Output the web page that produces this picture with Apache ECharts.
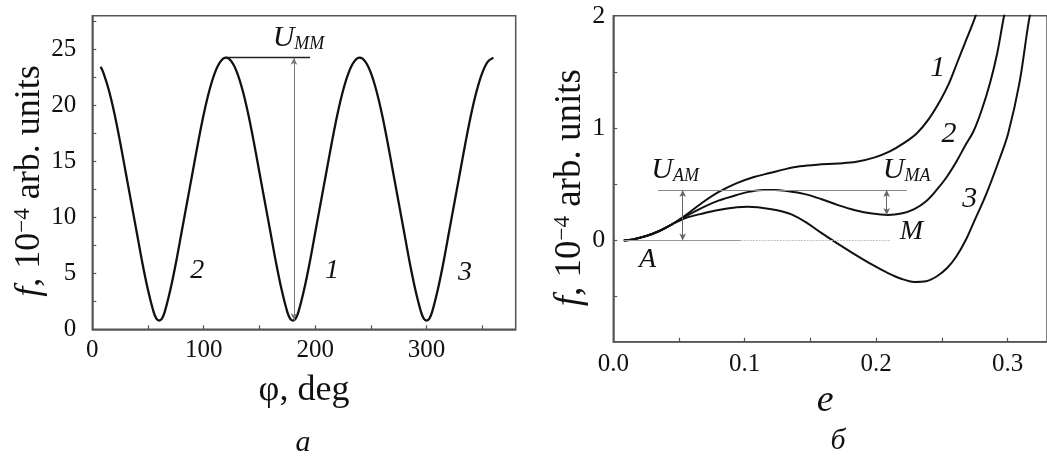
<!DOCTYPE html>
<html>
<head>
<meta charset="utf-8">
<script src="https://cdn.jsdelivr.net/npm/echarts@6/dist/echarts.min.js"></script>
<style>html,body{margin:0;padding:0;background:#fff;}#c{width:1047px;height:457px;}</style>
</head>
<body>
<div id="c"></div>
<script>
// ---- Panel a: f(phi) ----
const phiDeg = [7.5,10,15,20,25,30,35,40,45,50,55,57.5,60,62.5,65,70,75,80,85,90,95,100,105,110,115,120,
  125,130,135,140,145,150,155,160,165,170,175,177.5,180,182.5,185,190,195,200,205,210,215,220,225,230,235,240,
  245,250,255,260,265,270,275,280,285,290,295,297.5,300,302.5,305,310,315,320,325,330,335,340,345,350,355,360];
const fPhi = [23.45,22.9,21.3,19.2,16.7,14.0,11.3,8.6,5.9,3.5,1.55,0.95,0.78,0.95,1.55,3.5,5.9,8.6,11.3,14.0,16.7,19.2,21.3,22.9,23.9,24.25,
  23.9,22.9,21.3,19.2,16.7,14.0,11.3,8.6,5.9,3.5,1.55,0.95,0.78,0.95,1.55,3.5,5.9,8.6,11.3,14.0,16.7,19.2,21.3,22.9,23.9,24.25,
  23.9,22.9,21.3,19.2,16.7,14.0,11.3,8.6,5.9,3.5,1.55,0.95,0.78,0.95,1.55,3.5,5.9,8.6,11.3,14.0,16.7,19.2,21.3,22.9,23.9,24.25];
const phiTicks = [50,100,150,200,250,300,350];
const phiLabels = [0,100,200,300];
const fTicksA = [2.5,5,7.5,10,12.5,15,17.5,20,22.5,25,27.5];
const fLabelsA = [0,5,10,15,20,25];

// ---- Panel б: f(e) ----
const e1 = [0.008,0.015,0.025,0.035,0.044,0.055,0.069,0.08,0.094,0.107,0.119,0.131,0.142,0.155,0.171,0.185,0.199,0.21,0.221,0.231,0.24,0.249,0.2555,0.2615,0.268,0.2745,0.28];
const f1 = [0,0.01,0.04,0.085,0.14,0.225,0.347,0.43,0.51,0.565,0.60,0.635,0.66,0.675,0.685,0.70,0.74,0.79,0.866,0.955,1.08,1.25,1.40,1.577,1.77,1.96,2.15];
const e2 = [0.008,0.015,0.025,0.035,0.044,0.055,0.069,0.08,0.094,0.104,0.114,0.123,0.132,0.145,0.158,0.171,0.184,0.197,0.209,0.219,0.229,0.238,0.246,0.254,0.261,0.268,0.274,0.28,0.2866,0.292,0.2967,0.30];
const f2 = [0,0.01,0.04,0.085,0.14,0.215,0.30,0.355,0.406,0.435,0.45,0.45,0.44,0.415,0.37,0.315,0.27,0.24,0.228,0.24,0.28,0.35,0.45,0.57,0.70,0.85,0.97,1.15,1.40,1.66,1.96,2.15];
const e3 = [0.008,0.015,0.025,0.035,0.044,0.055,0.069,0.08,0.094,0.102,0.11,0.119,0.128,0.136,0.147,0.158,0.171,0.184,0.197,0.209,0.219,0.229,0.238,0.246,0.254,0.261,0.268,0.274,0.284,0.294,0.3005,0.309,0.3163,0.32];
const f3 = [0,0.01,0.04,0.085,0.14,0.2,0.243,0.272,0.297,0.30,0.295,0.28,0.26,0.23,0.16,0.07,-0.03,-0.125,-0.215,-0.29,-0.34,-0.368,-0.362,-0.32,-0.245,-0.142,0.0,0.155,0.42,0.73,0.955,1.40,1.96,2.15];
const eTicks = [0.05,0.1,0.15,0.2,0.25,0.3];
const eLabels = [0,0.1,0.2,0.3];
const fTicksB = [-0.5,0,0.5,1,1.5];
const fLabelsB = [0,1,2];

// annotation levels (data units)
const Umm = {peakPhi:120, endPhi:195.5, level:24.25, arrowPhi:181, low:0.8};
const Uline = {from:0.034, to:0.2233, level:0.45};
const zeroLine = {from:0.0075, solidTo:0.097, dottedTo:0.2105};
const arrowAM = {e:0.0528, low:0, high:0.45};
const arrowMA = {e:0.208, low:0.228, high:0.45};

const FONT = 'Liberation Serif';
const zip = (a,b)=>a.map((v,i)=>[v,b[i]]);
const axisCol = '#555';
const txt = '#111';

const chart = echarts.init(document.getElementById('c'), null, {renderer:'canvas'});

function baseAxis(extra){
  return Object.assign({
    type:'value',
    axisLine:{show:true,onZero:false,lineStyle:{color:axisCol,width:1.5}},
    splitLine:{show:false},
  }, extra);
}
const tick = (vals)=>({show:true,inside:true,length:4,customValues:vals,lineStyle:{color:axisCol,width:1.2}});
const arrowEnd = (coord)=>({coord, symbol:'arrow', symbolSize:[5,7]});

const option = {
  animation:false,
  backgroundColor:'#fff',
  grid:[
    {left:92.3, top:15.7, width:423.4, height:313.6, show:true, borderColor:axisCol, borderWidth:1.5},
    {left:613.3, top:15.7, width:438.9, height:326, show:true, borderColor:axisCol, borderWidth:1.5}
  ],
  xAxis:[
    baseAxis({gridIndex:0, min:0, max:380, axisTick:tick(phiTicks),
      axisLabel:{customValues:phiLabels,color:txt,fontFamily:FONT,fontSize:25,margin:9},
      name:'φ, deg', nameLocation:'middle', nameGap:43,
      nameTextStyle:{fontFamily:FONT,fontSize:36,color:txt}}),
    baseAxis({gridIndex:1, min:0, max:0.33, axisTick:tick(eTicks),
      axisLabel:{customValues:eLabels,color:txt,fontFamily:FONT,fontSize:25,margin:10,formatter:v=>v.toFixed(1)},
      name:'e', nameLocation:'middle', nameGap:28,
      nameTextStyle:{fontFamily:FONT,fontSize:38,fontStyle:'italic',color:txt,padding:[0,10,0,0]}})
  ],
  yAxis:[
    baseAxis({gridIndex:0, min:0, max:28, axisTick:tick(fTicksA),
      axisLabel:{customValues:fLabelsA,color:txt,fontFamily:FONT,fontSize:25,margin:16},
      name:'{i|f}, 10{s|−4} arb. units', nameLocation:'middle', nameGap:23,
      nameTextStyle:{fontFamily:FONT,fontSize:36,color:txt,padding:[0,17,0,0],
        rich:{i:{fontFamily:FONT,fontSize:36,fontStyle:'italic',color:txt},
              s:{fontFamily:FONT,fontSize:23,color:txt,verticalAlign:'top'}}}}),
    baseAxis({gridIndex:1, min:-0.9, max:2, axisTick:tick(fTicksB),
      axisLabel:{customValues:fLabelsB,color:txt,fontFamily:FONT,fontSize:26,margin:8},
      name:'{i|f}, 10{s|−4} arb. units', nameLocation:'middle', nameGap:20,
      nameTextStyle:{fontFamily:FONT,fontSize:37,color:txt,padding:[0,18,0,0],
        rich:{i:{fontFamily:FONT,fontSize:37,fontStyle:'italic',color:txt},
              s:{fontFamily:FONT,fontSize:23,color:txt,verticalAlign:'top'}}}})
  ],
  series:[
    {type:'line', xAxisIndex:0, yAxisIndex:0, data:zip(phiDeg,fPhi), smooth:0.35, showSymbol:false,
      lineStyle:{color:'#111',width:2.3}, silent:true,
      markLine:{silent:true, symbol:['none','none'], label:{show:false}, animation:false,
        data:[
          [{coord:[Umm.peakPhi,Umm.level], lineStyle:{color:'#222',width:1.3,type:'solid'}},{coord:[Umm.endPhi,Umm.level]}],
          [Object.assign(arrowEnd([Umm.arrowPhi,Umm.low]),{lineStyle:{color:'#777',width:1,type:'solid'}}), arrowEnd([Umm.arrowPhi,Umm.level])]
        ]}},
    {type:'line', xAxisIndex:1, yAxisIndex:1, data:zip(e1,f1), smooth:0.35, showSymbol:false,
      lineStyle:{color:'#111',width:2}, silent:true,
      markLine:{silent:true, symbol:['none','none'], label:{show:false}, animation:false,
        data:[
          [{coord:[Uline.from,Uline.level], lineStyle:{color:'#888',width:1.2,type:'solid'}},{coord:[Uline.to,Uline.level]}],
          [{coord:[zeroLine.from,0], lineStyle:{color:'#999',width:1.2,type:'solid'}},{coord:[zeroLine.solidTo,0]}],
          [{coord:[zeroLine.solidTo,0], lineStyle:{color:'#c4c4c4',width:1.2,type:[2,1]}},{coord:[zeroLine.dottedTo,0]}],
          [Object.assign(arrowEnd([arrowAM.e,arrowAM.low]),{lineStyle:{color:'#666',width:1,type:'solid'}}), arrowEnd([arrowAM.e,arrowAM.high])],
          [Object.assign(arrowEnd([arrowMA.e,arrowMA.low]),{lineStyle:{color:'#666',width:1,type:'solid'}}), arrowEnd([arrowMA.e,arrowMA.high])]
        ]}},
    {type:'line', xAxisIndex:1, yAxisIndex:1, data:zip(e2,f2), smooth:0.35, showSymbol:false,
      lineStyle:{color:'#111',width:2}, silent:true},
    {type:'line', xAxisIndex:1, yAxisIndex:1, data:zip(e3,f3), smooth:0.35, showSymbol:false,
      lineStyle:{color:'#111',width:2}, silent:true}
  ]
};
chart.setOption(option);

// Text annotations, anchored in data coordinates
const notes = [
  {grid:0, at:[94.3,5.25], text:'2', size:28},
  {grid:0, at:[215.2,5.2], text:'1', size:28},
  {grid:0, at:[334.6,5.1], text:'3', size:28},
  {grid:0, at:[161.9,26.0], text:'{u|U}{s|MM}', align:'left'},
  {grid:1, at:[0.0289,0.625], text:'{u|U}{s|AM}', align:'left'},
  {grid:1, at:[0.205,0.625], text:'{u|U}{s|MA}', align:'left'},
  {grid:1, at:[0.2268,0.082], text:'M', size:28},
  {grid:1, at:[0.026,-0.17], text:'A', size:28},
  {grid:1, at:[0.2469,1.535], text:'1', size:30},
  {grid:1, at:[0.2555,0.948], text:'2', size:30},
  {grid:1, at:[0.2712,0.37], text:'3', size:30}
];
const rich = {u:{fontFamily:FONT,fontSize:30,fontStyle:'italic',fill:txt},
              s:{fontFamily:FONT,fontSize:18,fontStyle:'italic',fill:txt,verticalAlign:'bottom'}};
const graphics = notes.map(n=>{
  const p = chart.convertToPixel({gridIndex:n.grid}, n.at);
  return {type:'text', x:p[0], y:p[1], silent:true,
    style:{text:n.text, fill:txt, fontFamily:FONT, fontSize:(n.size||30), fontStyle:'italic',
      align:n.align||'center', verticalAlign:'middle', rich:rich}};
});
graphics.push({type:'text', x:303, y:443, silent:true,
  style:{text:'а', fill:txt, fontFamily:FONT, fontSize:30, fontStyle:'italic', align:'center', verticalAlign:'middle'}});
graphics.push({type:'text', x:838, y:441, silent:true,
  style:{text:'б', fill:txt, fontFamily:FONT, fontSize:30, fontStyle:'italic', align:'center', verticalAlign:'middle'}});
chart.setOption({graphic:graphics});
</script>
</body>
</html>
